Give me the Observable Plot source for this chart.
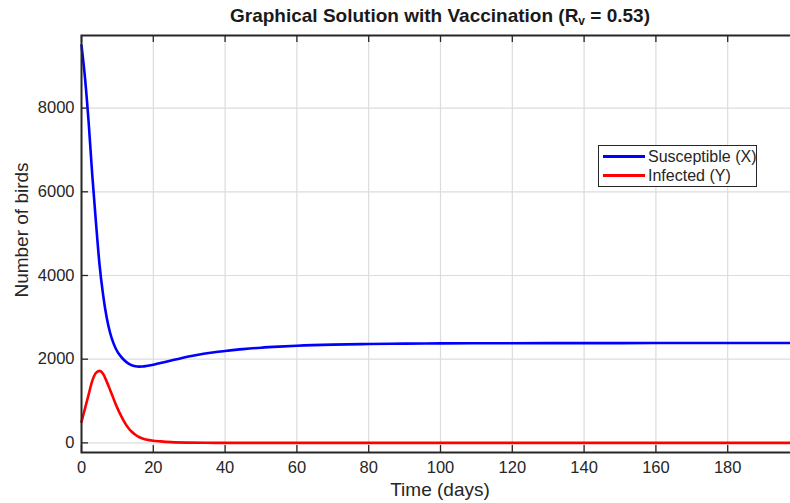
<!DOCTYPE html>
<html>
<head>
<meta charset="utf-8">
<script src="https://cdn.jsdelivr.net/npm/d3@7"></script>
<script src="https://cdn.jsdelivr.net/npm/@observablehq/plot@0.6"></script>
<style>
  html, body { margin: 0; padding: 0; background: #fff; }
  #wrap { position: relative; width: 790px; height: 503px; overflow: hidden; font-family: "Liberation Sans", Arial, sans-serif; color: #262626; }
  #chart { position: absolute; left: 0; top: 0; width: 800px; height: 503px; }
  #chart svg { max-width: none !important; width: 800px !important; height: 503px !important; }
  #title { position: absolute; left: 0; width: 880px; top: 5px; text-align: center; font-weight: bold; font-size: 19px; color: #1a1a1a; white-space: nowrap; }
  #title sub { font-size: 12px; vertical-align: -3px; }
  #xlabel { position: absolute; left: 0; width: 880px; top: 479px; text-align: center; font-size: 19px; }
  #ylabel { position: absolute; left: 22px; top: 230px; transform: translate(-50%, -50%) rotate(-90deg); font-size: 19px; white-space: nowrap; }
  #legend { position: absolute; left: 598px; top: 145px; width: 157px; height: 40px; border: 1px solid #262626; background: #fff; font-size: 16px; }
  .lrow { position: absolute; left: 0; height: 19px; display: flex; align-items: center; white-space: nowrap; }
  .lline { width: 42px; height: 2.6px; margin-left: 4px; margin-right: 3px; }
</style>
</head>
<body>
<div id="wrap">
  <div id="chart"></div>
  <div id="title">Graphical Solution with Vaccination (R<sub>v</sub> = 0.53)</div>
  <div id="xlabel">Time (days)</div>
  <div id="ylabel">Number of birds</div>
  <div id="legend"></div>
</div>
<script>
// ---- data ----
const seriesNames = ["Susceptible (X)", "Infected (Y)"];
const seriesColors = ["#0000ff", "#ff0000"];

const timeX = [0, 1, 2, 3, 4, 5, 6, 7, 8, 9, 10, 11, 12, 13, 14, 15, 16, 17, 18, 20, 22, 25, 28, 31, 34, 37, 40, 45, 50, 55, 60, 70, 80, 90, 100, 120, 140, 160, 180, 200];
const susceptible = [9500, 8700, 7650, 6400, 5300, 4280, 3550, 3000, 2620, 2360, 2180, 2060, 1970, 1900, 1855, 1832, 1822, 1825, 1836, 1868, 1908, 1968, 2030, 2083, 2128, 2165, 2195, 2240, 2275, 2300, 2320, 2347, 2363, 2372, 2378, 2382, 2384, 2385, 2385, 2385];

const timeY = [0, 1, 2, 3, 4, 5, 6, 7, 8, 9, 10, 11, 12, 13, 14, 15, 16, 18, 20, 22, 25, 30, 35, 40, 60, 100, 150, 200];
const infected = [500, 830, 1160, 1480, 1670, 1720, 1650, 1470, 1260, 1040, 830, 650, 490, 360, 265, 195, 140, 80, 50, 35, 18, 6, 2, 0, 0, 0, 0, 0];

const xTicks = [0, 20, 40, 60, 80, 100, 120, 140, 160, 180];
const yTicks = [0, 2000, 4000, 6000, 8000];
const xDomain = [0, 200];
const yDomain = [-230, 9735];

// ---- layout ----
const W = 800, H = 503;
const mL = 81, mR = 1, mT = 35, mB = 51;
const plotW = W - mL - mR, plotH = H - mT - mB;
const axisColor = "#262626";

const rows = [
  ...timeX.map((t, i) => ({t, v: susceptible[i], s: seriesNames[0]})),
  ...timeY.map((t, i) => ({t, v: infected[i], s: seriesNames[1]}))
];

const chart = Plot.plot({
  width: W, height: H,
  marginLeft: mL, marginRight: mR, marginTop: mT, marginBottom: mB,
  style: {fontFamily: "Liberation Sans, Arial, sans-serif", fontSize: "16px", color: axisColor, background: "transparent", maxWidth: "none"},
  x: {domain: xDomain},
  y: {domain: yDomain},
  color: {domain: seriesNames, range: seriesColors},
  marks: [
    Plot.ruleX(xTicks, {stroke: "#dcdcdc", strokeWidth: 1.2}),
    Plot.ruleY(yTicks, {stroke: "#dcdcdc", strokeWidth: 1.2}),
    Plot.line(rows, {x: "t", y: "v", z: "s", stroke: "s", strokeWidth: 2.6, curve: "monotone-x"}),
    // inward ticks
    Plot.tickX(xTicks, {x: d => d, stroke: axisColor, strokeWidth: 1.3, insetTop: plotH - 7}),
    Plot.tickX(xTicks, {x: d => d, stroke: axisColor, strokeWidth: 1.3, insetBottom: plotH - 7}),
    Plot.tickY(yTicks, {y: d => d, stroke: axisColor, strokeWidth: 1.3, insetRight: plotW - 7}),
    Plot.frame({stroke: axisColor, strokeWidth: 2}),
    Plot.axisX(xTicks, {tickSize: 0, tickPadding: 9, label: null, fontSize: 16.5, fill: axisColor}),
    Plot.axisY(yTicks, {tickSize: 0, tickPadding: 7, label: null, fontSize: 16.5, fill: axisColor, tickFormat: d => String(d)})
  ]
});
document.getElementById("chart").appendChild(chart);

// legend
const legend = document.getElementById("legend");
seriesNames.forEach((name, i) => {
  const row = document.createElement("div");
  row.className = "lrow";
  row.style.top = (1 + i * 19) + "px";
  const ln = document.createElement("span");
  ln.className = "lline";
  ln.style.background = seriesColors[i];
  const tx = document.createElement("span");
  tx.textContent = name;
  row.appendChild(ln); row.appendChild(tx);
  legend.appendChild(row);
});
</script>
</body>
</html>
